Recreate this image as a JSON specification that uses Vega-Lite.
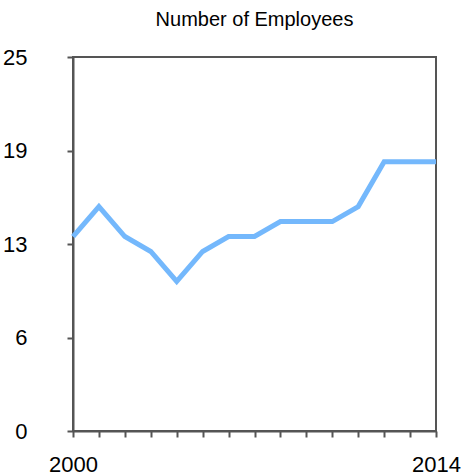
{
  "$schema": "https://vega.github.io/schema/vega-lite/v6.json",
  "width": 363,
  "height": 374,
  "autosize": {"type": "none"},
  "padding": {"left": 73, "top": 57, "right": 26, "bottom": 45},
  "title": {
    "text": "Number of Employees",
    "anchor": "middle",
    "frame": "group",
    "font": "Liberation Sans",
    "fontSize": 20,
    "fontWeight": "normal",
    "color": "#000000",
    "offset": 16
  },
  "data": {
    "values": [
      {"year": 2000, "employees": 13},
      {"year": 2001, "employees": 15},
      {"year": 2002, "employees": 13},
      {"year": 2003, "employees": 12},
      {"year": 2004, "employees": 10},
      {"year": 2005, "employees": 12},
      {"year": 2006, "employees": 13},
      {"year": 2007, "employees": 13},
      {"year": 2008, "employees": 14},
      {"year": 2009, "employees": 14},
      {"year": 2010, "employees": 14},
      {"year": 2011, "employees": 15},
      {"year": 2012, "employees": 18},
      {"year": 2013, "employees": 18},
      {"year": 2014, "employees": 18}
    ]
  },
  "mark": {"type": "line", "color": "#74b8fc", "strokeWidth": 5, "strokeJoin": "miter"},
  "encoding": {
    "x": {
      "field": "year",
      "type": "quantitative",
      "scale": {"domain": [2000, 2014], "nice": false, "zero": false},
      "axis": {
        "title": null,
        "grid": false,
        "values": [2000, 2001, 2002, 2003, 2004, 2005, 2006, 2007, 2008, 2009, 2010, 2011, 2012, 2013, 2014],
        "labelExpr": "datum.value == 2000 || datum.value == 2014 ? datum.value : ''",
        "labelFlush": false,
        "labelOverlap": false,
        "labelBaseline": "top",
        "labelPadding": 17,
        "labelDx": -3
      }
    },
    "y": {
      "field": "employees",
      "type": "quantitative",
      "scale": {"domain": [0, 25], "nice": false},
      "axis": {
        "title": null,
        "grid": false,
        "values": [0, 6.25, 12.5, 18.75, 25],
        "format": ".0f",
        "labelPadding": 40,
        "labelAlign": "right"
      }
    }
  },
  "config": {
    "view": {"stroke": "#555555", "strokeWidth": 2},
    "axis": {
      "domainColor": "#555555",
      "domainWidth": 2,
      "tickColor": "#555555",
      "tickWidth": 2,
      "tickSize": 6,
      "labelFont": "Liberation Sans",
      "labelFontSize": 22,
      "labelColor": "#000000"
    }
  }
}
